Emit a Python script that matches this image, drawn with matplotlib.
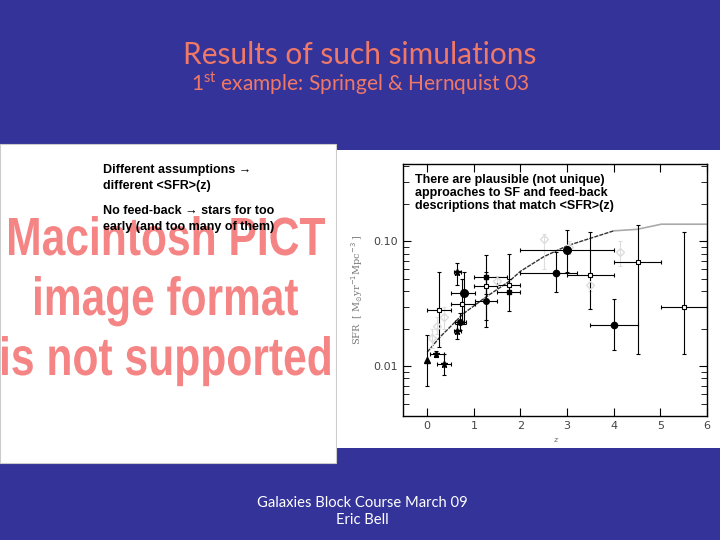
import matplotlib
matplotlib.use("Agg")
import matplotlib.pyplot as plt
from matplotlib.patches import Rectangle, PathPatch
from matplotlib.textpath import TextPath
from matplotlib.font_manager import FontProperties
from matplotlib.transforms import Affine2D
from matplotlib.ticker import LogLocator, NullFormatter, FixedLocator

BLUE = "#333399"
SALMON = "#f07866"
PINK = "#f58585"

# model curve (Springel & Hernquist 03)
curve_z = [0.0, 0.27, 0.77, 1.25, 1.76, 2.0, 2.5, 3.0, 3.5, 4.0, 4.5, 5.02, 6.0]
curve_sfr = [0.013, 0.0171, 0.0263, 0.0357, 0.048, 0.0577, 0.0755, 0.0923, 0.106, 0.1216, 0.125, 0.1374, 0.1374]

# filled circles
fc_z = [0.71, 0.79, 1.25, 2.76, 3.0, 4.0]
fc_sfr = [0.0226, 0.0385, 0.0332, 0.0559, 0.0853, 0.0216]
fc_xlo = [0.6, 0.52, 1.02, 1.99, 1.99, 3.49]
fc_xhi = [0.83, 1.02, 1.5, 3.21, 4.0, 4.52]
fc_ylo = [0.0195, 0.0219, 0.0233, 0.0392, 0.0566, 0.0136]
fc_yhi = [0.0265, 0.0567, 0.0567, 0.0817, 0.123, 0.0347]
fc_size = [4, 5.5, 4, 4.5, 5.5, 4.5]

# small filled squares
fs_z = [1.25, 1.76]
fs_sfr = [0.0522, 0.0392]
fs_xlo = [1.0, 1.5]
fs_xhi = [1.71, 1.99]
fs_ylo = [0.0206, 0.0275]
fs_yhi = [0.0783, 0.080]

# open squares
os_z = [0.25, 0.75, 1.25, 1.76, 3.5, 4.51, 5.5]
os_sfr = [0.028, 0.0313, 0.0437, 0.0452, 0.0542, 0.0689, 0.0297]
os_xlo = [0.0, 0.5, 1.0, 1.5, 3.0, 4.0, 5.02]
os_xhi = [0.5, 1.02, 1.5, 1.99, 4.0, 5.02, 6.0]
os_ylo = [0.0142, 0.022, 0.038, 0.040, 0.029, 0.0125, 0.0125]
os_yhi = [0.0567, 0.050, 0.050, 0.050, 0.120, 0.135, 0.118]

# filled triangle
tr_z = [0.0]
tr_sfr = [0.0112]
tr_ylo = [0.0069]
tr_yhi = [0.0177]

# stars
st_z = [0.36, 0.63, 0.64, 0.18]
st_sfr = [0.0105, 0.0193, 0.0566, 0.0125]
st_xlo = [0.21, 0.58, 0.58, 0.05]
st_xhi = [0.5, 0.72, 0.72, 0.35]
st_ylo = [0.0085, 0.0165, 0.045, 0.0118]
st_yhi = [0.0125, 0.022, 0.067, 0.0132]

# faint grey points
gr_z = [0.1, 0.2, 0.35, 1.49, 2.5, 3.05, 3.5, 4.13]
gr_sfr = [0.017, 0.021, 0.025, 0.048, 0.104, 0.09, 0.045, 0.0817]
gr_ylo = [0.014, 0.018, 0.02, 0.044, 0.06, 0.08, 0.04, 0.063]
gr_yhi = [0.02, 0.025, 0.03, 0.053, 0.115, 0.1, 0.052, 0.1]

# the "missing picture" placeholder lines
pict_lines = ["Macintosh PICT", "image format", "is not supported"]


def err(v, lo, hi):
    return [[a - b for a, b in zip(v, lo)], [b - a for a, b in zip(v, hi)]]


W, H = 720, 540
fig = plt.figure(figsize=(7.2, 5.4), dpi=100, facecolor=BLUE)

# slide panels
fig.patches.append(Rectangle((0, 1 - 463 / H), 336 / W, 319 / H,
                             transform=fig.transFigure, facecolor="white",
                             edgecolor="#cccccc", lw=0.8, zorder=-10))
fig.patches.append(Rectangle((337 / W, 1 - 448 / H), 383 / W, 298 / H,
                             transform=fig.transFigure, facecolor="white",
                             edgecolor="none", zorder=-10))

# titles
fig.text(0.5, 1 - 55 / H, "Results of such simulations", ha="center", va="center",
         color=SALMON, fontsize=21.5, family="Lato")
fig.text(0.5, 1 - 84 / H, r"1$^{\mathregular{st}}$ example: Springel & Hernquist 03",
         ha="center", va="center", color=SALMON, fontsize=15, family="Lato")

# placeholder text, squeezed like a narrow bold face
prop = FontProperties(family="Liberation Sans", weight="bold")
cap = TextPath((0, 0), "H", size=100, prop=prop).get_extents().height
boxes = [(9, 325, 255), (35, 298, 315), (2, 330, 375)]  # left, right, baseline (px)
for txt, (x0, x1, base) in zip(pict_lines, boxes):
    tp = TextPath((0, 0), txt, size=100, prop=prop)
    ext = tp.get_extents()
    sx = (x1 - x0) / ext.width
    sy = 37 / cap
    tr = Affine2D().translate(-ext.x0, 0).scale(sx, sy).translate(x0, H - base) \
        .scale(1 / W, 1 / H) + fig.transFigure
    fig.patches.append(PathPatch(tp, transform=tr, facecolor=PINK, edgecolor="none",
                                 zorder=-5))

fig.text(103 / W, 1 - 178 / H, "Different assumptions \u2192\ndifferent <SFR>(z)",
         ha="left", va="center", fontsize=9, fontweight="bold", linespacing=1.35,
         family=["Liberation Sans", "DejaVu Sans"])
fig.text(103 / W, 1 - 219 / H, "No feed-back \u2192 stars for too\nearly (and too many of them)",
         ha="left", va="center", fontsize=9, fontweight="bold", linespacing=1.35,
         family=["Liberation Sans", "DejaVu Sans"])

# footer
fig.text(362 / W, 1 - 503 / H, "Galaxies Block Course March 09", ha="center",
         va="center", color="white", fontsize=10.6, family="Lato")
fig.text(362 / W, 1 - 520 / H, "Eric Bell", ha="center",
         va="center", color="white", fontsize=10.6, family="Lato")

# the SFR plot
ax = fig.add_axes([403 / W, 1 - 416 / H, 304 / W, 252 / H])
ax.set_yscale("log")
ax.set_xlim(-0.52, 6)
ax.set_ylim(0.004, 0.417)

ax.plot(curve_z[:10], curve_sfr[:10], color="#333333", lw=1.0, ls=(0, (3, 0.8)))
ax.plot(curve_z[9:], curve_sfr[9:], color="#aaaaaa", lw=1.2)

eb = dict(elinewidth=0.8, capsize=1.5, capthick=0.8)
ax.errorbar(gr_z, gr_sfr, yerr=err(gr_sfr, gr_ylo, gr_yhi), fmt="D", ms=4,
            mfc="none", mec="#dddddd", ecolor="#dddddd", **eb)
ax.errorbar(os_z, os_sfr, xerr=err(os_z, os_xlo, os_xhi), yerr=err(os_sfr, os_ylo, os_yhi),
            fmt="s", ms=3.5, mfc="white", mec="black", ecolor="black", mew=0.8, **eb)
ax.errorbar(fs_z, fs_sfr, xerr=err(fs_z, fs_xlo, fs_xhi), yerr=err(fs_sfr, fs_ylo, fs_yhi),
            fmt="s", ms=3.5, color="black", **eb)
for i in range(len(fc_z)):
    ax.errorbar([fc_z[i]], [fc_sfr[i]], xerr=[[fc_z[i] - fc_xlo[i]], [fc_xhi[i] - fc_z[i]]],
                yerr=[[fc_sfr[i] - fc_ylo[i]], [fc_yhi[i] - fc_sfr[i]]],
                fmt="o", ms=fc_size[i], color="black", **eb)
ax.errorbar(tr_z, tr_sfr, yerr=err(tr_sfr, tr_ylo, tr_yhi), fmt="^", ms=4,
            color="black", **eb)
ax.errorbar(st_z, st_sfr, xerr=err(st_z, st_xlo, st_xhi), yerr=err(st_sfr, st_ylo, st_yhi),
            fmt="*", ms=5, color="black", **eb)

ax.xaxis.set_major_locator(FixedLocator([0, 1, 2, 3, 4, 5, 6]))
ax.yaxis.set_major_locator(FixedLocator([0.01, 0.1]))
ax.set_yticklabels(["0.01", "0.10"])
ax.yaxis.set_minor_locator(LogLocator(base=10, subs=range(2, 10)))
ax.yaxis.set_minor_formatter(NullFormatter())
ax.tick_params(direction="in", top=True, right=True, labelsize=8, labelcolor="#444444")
ax.tick_params(which="major", length=6)
ax.tick_params(which="minor", length=4, direction="in", right=True)
for s in ax.spines.values():
    s.set_linewidth(1.0)
ax.set_xlabel("z", fontsize=6, style="italic", color="#555555", labelpad=4,
              family="DejaVu Serif")
ax.set_ylabel(r"SFR  [ M$_{\odot}$yr$^{-1}$Mpc$^{-3}$ ]", fontsize=7, color="#777777",
              family="DejaVu Serif", labelpad=6)

ax.text(0.04, 0.96, "There are plausible (not unique)\napproaches to SF and feed-back\n"
        "descriptions that match <SFR>(z)", transform=ax.transAxes, ha="left", va="top",
        fontsize=9, fontweight="bold", linespacing=1.1,
        family=["Liberation Sans", "DejaVu Sans"],
        bbox=dict(facecolor="white", edgecolor="none", pad=1))

fig.savefig("out.png", dpi=100, facecolor=BLUE)
